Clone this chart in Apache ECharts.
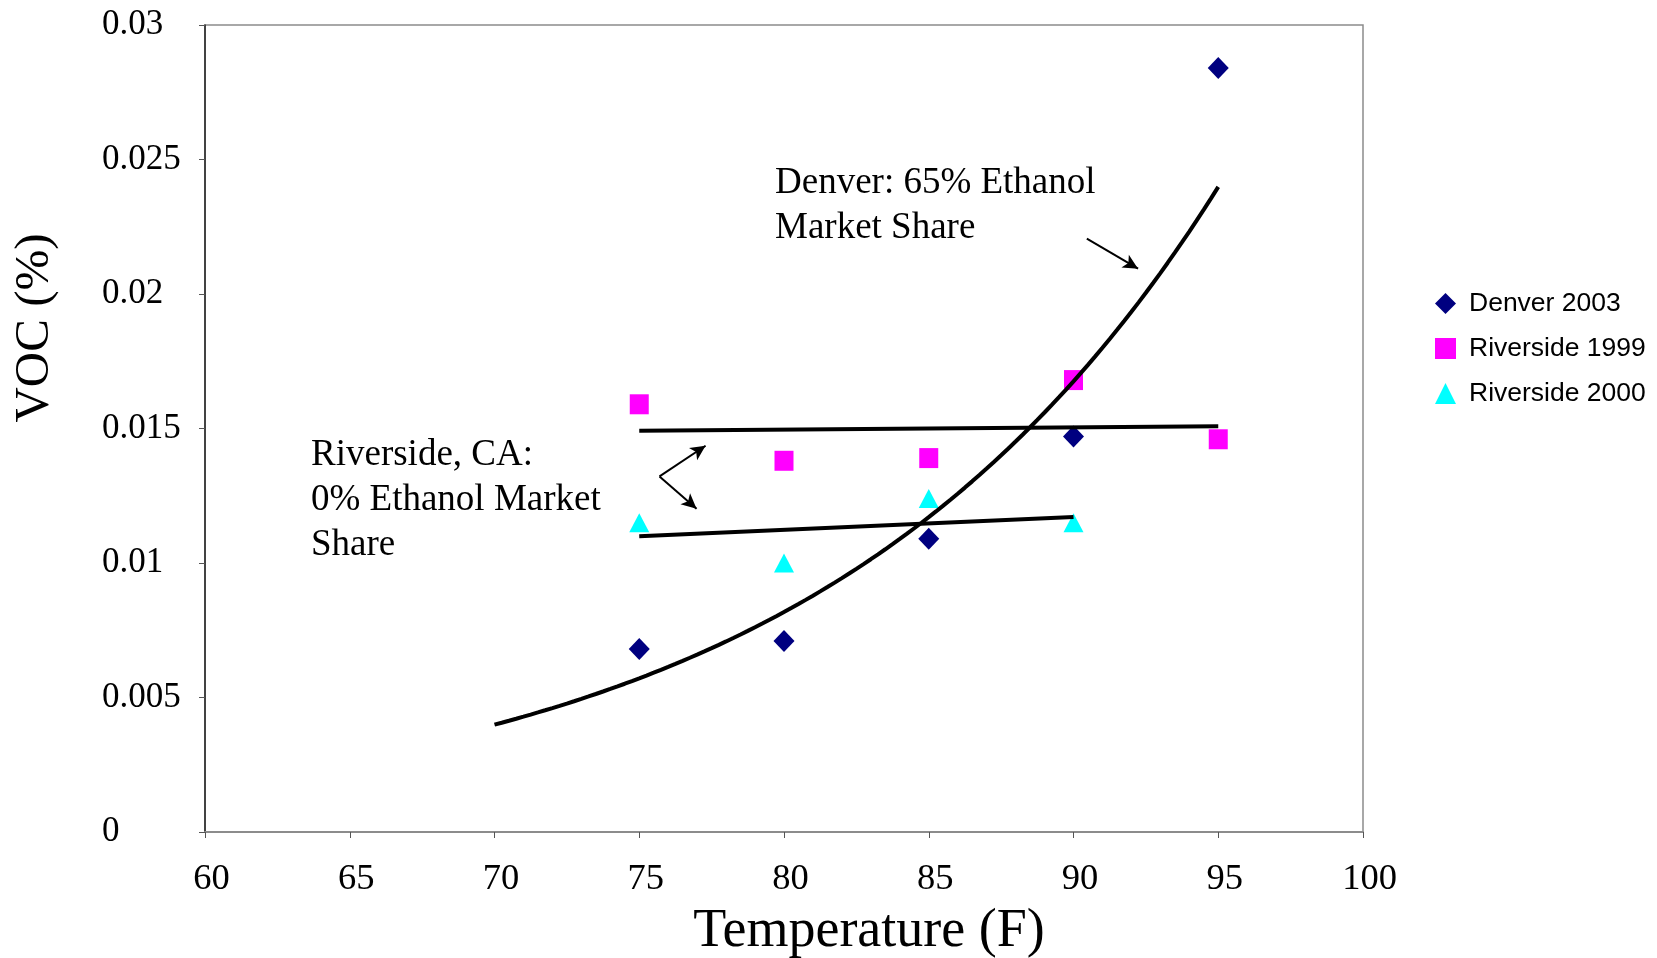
<!DOCTYPE html>
<html>
<head>
<meta charset="utf-8">
<script src="https://cdn.jsdelivr.net/npm/echarts@6/dist/echarts.min.js"></script>
<style>
html,body{margin:0;padding:0;background:#fff;}
#chart{width:1657px;height:958px;}
</style>
</head>
<body>
<div id="chart"></div>
<script>
// ---- data ----
const temperatures = [75, 80, 85, 90, 95];
const denver2003 = [0.0068, 0.0071, 0.0109, 0.0147, 0.0284];
const riverside1999 = [0.0159, 0.0138, 0.0139, 0.0168, 0.0146];
const riverside2000Temps = [75, 80, 85, 90];
const riverside2000 = [0.0115, 0.0100, 0.0124, 0.0115];
const xTickLabels = ['60', '65', '70', '75', '80', '85', '90', '95', '100'];
const yTickLabels = ['0', '0.005', '0.01', '0.015', '0.02', '0.025', '0.03'];
const seriesNames = ['Denver 2003', 'Riverside 1999', 'Riverside 2000'];
const denverTrendRange = [70, 95];      // exponential trendline, backward forecast 5
const riverside1999TrendRange = [75, 95];
const riverside2000TrendRange = [75, 90];
const denverArrow = [[90.46, 0.02206], [92.23, 0.02094]];
const riversideArrowUp = [[75.70, 0.01322], [77.29, 0.01436]];
const riversideArrowDown = [[75.70, 0.01322], [76.98, 0.01202]];
const denverNote = 'Denver: 65% Ethanol\nMarket Share';
const riversideNote = 'Riverside, CA:\n0% Ethanol Market\nShare';

// ---- regression trendlines (as Excel computes them) ----
function linFit(xs, ys) {
  const n = xs.length;
  const mx = xs.reduce((a, b) => a + b, 0) / n;
  const my = ys.reduce((a, b) => a + b, 0) / n;
  let sxy = 0, sxx = 0;
  for (let i = 0; i < n; i++) { sxy += (xs[i] - mx) * (ys[i] - my); sxx += (xs[i] - mx) ** 2; }
  const b = sxy / sxx;
  return { a: my - b * mx, b: b };
}
const lf1999 = linFit(temperatures, riverside1999);
const lf2000 = linFit(riverside2000Temps, riverside2000);
const ef = linFit(temperatures, denver2003.map(Math.log));
const denverTrend = [];
for (let x = denverTrendRange[0]; x <= denverTrendRange[1] + 1e-9; x += 0.25) {
  denverTrend.push([x, Math.exp(ef.a + ef.b * x)]);
}
const r1999Trend = riverside1999TrendRange.map(x => [x, lf1999.a + lf1999.b * x]);
const r2000Trend = riverside2000TrendRange.map(x => [x, lf2000.a + lf2000.b * x]);

const serif = '"Liberation Serif","Times New Roman",serif';
const sans = '"Liberation Sans",Arial,sans-serif';

const chart = echarts.init(document.getElementById('chart'), null, { renderer: 'canvas' });
chart.setOption({
  backgroundColor: '#ffffff',
  animation: false,
  grid: { left: 205, right: 294, top: 25, bottom: 126, show: true, borderColor: '#8c8c8c', borderWidth: 1.5, backgroundColor: 'transparent' },
  xAxis: {
    type: 'value', min: 60, max: 100, interval: 5,
    axisLine: { show: true, onZero: false, lineStyle: { color: '#8c8c8c', width: 2 } },
    axisTick: { show: true, inside: false, length: 6, lineStyle: { color: '#555', width: 1 } },
    splitLine: { show: false },
    axisLabel: {
      margin: 29, fontFamily: serif, fontSize: 36.5, color: '#000',
      padding: [0, 0, 0, 13],
      formatter: (v, i) => xTickLabels[i]
    }
  },
  yAxis: {
    type: 'value', min: 0, max: 0.03, interval: 0.005,
    axisLine: { show: true, onZero: false, lineStyle: { color: '#222', width: 1.5 } },
    axisTick: { show: true, inside: false, length: 6, lineStyle: { color: '#555', width: 1 } },
    splitLine: { show: false },
    axisLabel: {
      margin: 103, align: 'left', fontFamily: serif, fontSize: 35, color: '#000',
      padding: [0, 0, 9, 0],
      formatter: (v, i) => yTickLabels[i]
    }
  },
  legend: {
    orient: 'vertical', left: 1430, top: 285, itemGap: 18,
    itemWidth: 21, itemHeight: 21,
    textStyle: { fontFamily: sans, fontSize: 26.5, color: '#000', lineHeight: 27, padding: [0, 0, 0, 8] },
    data: [
      { name: seriesNames[0], icon: 'diamond' },
      { name: seriesNames[1], icon: 'rect' },
      { name: seriesNames[2], icon: 'triangle' }
    ]
  },
  graphic: [
    { type: 'text', x: 35, y: 328, rotation: Math.PI / 2,
      style: { text: 'VOC (%)', font: '49px ' + serif, fill: '#000', textAlign: 'center', textVerticalAlign: 'middle' } },
    { type: 'text', x: 869, y: 932,
      style: { text: 'Temperature (F)', font: '54px ' + serif, fill: '#000', textAlign: 'center', textVerticalAlign: 'middle' } },
    { type: 'text', x: 775, y: 161,
      style: { text: denverNote, font: '37px ' + serif, lineHeight: 45, fill: '#000', textAlign: 'left', textVerticalAlign: 'top' } },
    { type: 'text', x: 311, y: 433,
      style: { text: riversideNote, font: '37px ' + serif, lineHeight: 45, fill: '#000', textAlign: 'left', textVerticalAlign: 'top' } }
  ],
  series: [
    {
      name: seriesNames[0], type: 'scatter', z: 2,
      symbol: 'diamond', symbolSize: [21, 22],
      itemStyle: { color: '#000080', opacity: 1 },
      data: temperatures.map((t, i) => [t, denver2003[i]])
    },
    {
      name: seriesNames[1], type: 'scatter', z: 2,
      symbol: 'rect', symbolSize: [19, 20],
      itemStyle: { color: '#ff00ff', opacity: 1 },
      data: temperatures.map((t, i) => [t, riverside1999[i]])
    },
    {
      name: seriesNames[2], type: 'scatter', z: 2,
      symbol: 'triangle', symbolSize: [20, 19],
      itemStyle: { color: '#00ffff', opacity: 1 },
      data: riverside2000Temps.map((t, i) => [t, riverside2000[i]])
    },
    {
      name: 'Denver trend', type: 'line', z: 5, showSymbol: false, smooth: false,
      lineStyle: { color: '#000', width: 4 }, data: denverTrend, silent: true
    },
    {
      name: 'Riverside 1999 trend', type: 'line', z: 5, showSymbol: false,
      lineStyle: { color: '#000', width: 4 }, data: r1999Trend, silent: true
    },
    {
      name: 'Riverside 2000 trend', type: 'line', z: 5, showSymbol: false,
      lineStyle: { color: '#000', width: 4 }, data: r2000Trend, silent: true,
      markLine: {
        silent: true, symbol: ['none', 'arrow'], symbolSize: [11, 15],
        label: { show: false },
        lineStyle: { color: '#000', width: 2, type: 'solid' },
        data: [
          [{ coord: denverArrow[0] }, { coord: denverArrow[1] }],
          [{ coord: riversideArrowUp[0] }, { coord: riversideArrowUp[1] }],
          [{ coord: riversideArrowDown[0] }, { coord: riversideArrowDown[1] }]
        ]
      }
    }
  ]
});
</script>
</body>
</html>
